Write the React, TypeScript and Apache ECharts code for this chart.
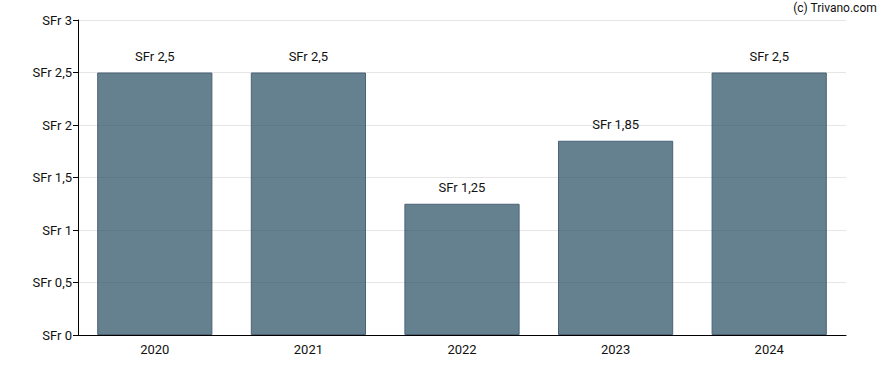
import React, { useEffect, useRef } from "react";
import * as echarts from "echarts";

const categories = ["2020", "2021", "2022", "2023", "2024"];
const values = [2.5, 2.5, 1.25, 1.85, 2.5];
const yTicks = [0, 0.5, 1, 1.5, 2, 2.5, 3];

const fmt = (v: number) => "SFr " + String(v).replace(".", ",");

export default function App() {
  const ref = useRef<HTMLDivElement>(null);
  useEffect(() => {
    const chart = echarts.init(ref.current!, undefined, { renderer: "svg" });
    chart.setOption({
      animation: false,
      textStyle: { fontFamily: "Roboto" },
      grid: { left: 78, right: 42, top: 20, bottom: 35 },
      graphic: [
        {
          type: "text",
          right: 11,
          top: 2,
          style: { text: "(c) Trivano.com", fontFamily: "Roboto", fontSize: 12, fill: "#111" },
        },
      ],
      xAxis: {
        type: "category",
        data: categories,
        axisLine: { lineStyle: { color: "#000", width: 1 } },
        axisTick: { alignWithLabel: true, length: 5, lineStyle: { color: "#000" } },
        axisLabel: { color: "#111", fontSize: 13, margin: 8 },
      },
      yAxis: {
        type: "value",
        min: yTicks[0],
        max: yTicks[yTicks.length - 1],
        interval: 0.5,
        axisLine: { show: true, lineStyle: { color: "#000", width: 1 } },
        axisTick: { show: true, length: 5, lineStyle: { color: "#000" } },
        axisLabel: { color: "#111", fontSize: 13, margin: 6, formatter: (v: number) => fmt(v) },
        splitLine: { lineStyle: { color: "#e6e6e6", width: 1 } },
      },
      series: [
        {
          type: "bar",
          data: values,
          barWidth: "75%",
          itemStyle: { color: "rgba(42,81,100,0.72)", borderColor: "#4a6377", borderWidth: 1 },
          label: {
            show: true,
            position: "top",
            distance: 10,
            color: "#111",
            fontSize: 13,
            formatter: (p: any) => fmt(p.value),
          },
        },
      ],
    });
    return () => chart.dispose();
  }, []);
  return (
    <div
      ref={ref}
      style={{ position: "absolute", left: 0, top: 0, width: 888, height: 370 }}
    />
  );
}
